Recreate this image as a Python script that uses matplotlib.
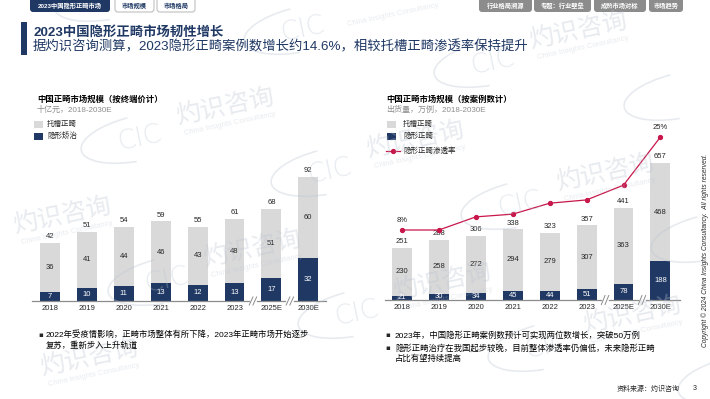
import matplotlib
matplotlib.use('Agg')
import matplotlib.pyplot as plt
from matplotlib.patches import FancyBboxPatch, Rectangle, Arc
import numpy as np

plt.rcParams['font.family'] = ['Liberation Sans', 'Noto Sans CJK SC', 'DejaVu Sans']

# 数据
years = ['2018', '2019', '2020', '2021', '2022', '2023', '2025E', '2030E']
# 左图：十亿元
value_invisible = [7, 10, 11, 13, 12, 13, 17, 32]
value_bracket = [36, 41, 44, 46, 43, 48, 51, 60]
value_total = [42, 51, 54, 59, 55, 61, 68, 92]
# 右图：万例
case_invisible = [21, 30, 34, 45, 44, 51, 78, 188]
case_bracket = [230, 258, 272, 294, 279, 307, 363, 468]
case_total = [251, 288, 306, 338, 323, 357, 441, 657]
penetration = [8, 8, 10.4, 10.9, 12.9, 13.5, 16.2, 25]
penetration_labels = ['8%', '', '', '', '', '', '', '25%']

NAVY = '#1f3864'
GRAY = '#d9d9d9'
RED = '#c8174b'
DARK = '#262626'
W, H = 710, 399

fig = plt.figure(figsize=(W / 100, H / 100), dpi=100)


def rect(x0, y_top, x1, y_bot):
    return [x0 / W, 1 - y_bot / H, (x1 - x0) / W, (y_bot - y_top) / H]


def bar_chart(ax, inv, brk, tot, xlim, ylim):
    x = np.arange(len(years))
    ax.bar(x, inv, width=0.54, color=NAVY, zorder=2)
    ax.bar(x, brk, bottom=inv, width=0.54, color=GRAY, zorder=2)
    for i in range(len(x)):
        ax.text(x[i], inv[i] / 2, str(inv[i]), ha='center', va='center',
                color='white', fontsize=5.5, zorder=3)
        ax.text(x[i], inv[i] + brk[i] / 2, str(brk[i]), ha='center', va='center',
                color=DARK, fontsize=5.5, zorder=3)
        ax.annotate(str(tot[i]), (x[i], inv[i] + brk[i]), xytext=(0, 2),
                    textcoords='offset points', ha='center', va='bottom',
                    color=DARK, fontsize=5.5)
    ax.set_xlim(*xlim)
    ax.set_ylim(*ylim)
    for s in ax.spines.values():
        s.set_visible(False)
    ax.set_yticks([])
    ax.set_xticks(x, years)
    ax.tick_params(axis='x', length=0, labelsize=5.5, pad=3, labelcolor=DARK)
    ax.patch.set_alpha(0)
    tr = ax.get_xaxis_transform()
    segs = [(xlim[0], 5.38), (5.62, 6.38), (6.62, xlim[1])]
    for a, b in segs:
        ax.plot([a, b], [0, 0], color='#8c8c8c', lw=0.9, transform=tr,
                clip_on=False, zorder=4)
    for bx in (5.5, 6.5):
        for dx in (-0.05, 0.05):
            ax.plot([bx + dx - 0.05, bx + dx + 0.05], [-0.025, 0.025],
                    color='#8c8c8c', lw=0.7, transform=tr, clip_on=False)


# 左图
ax1 = fig.add_axes(rect(32, 140, 326, 301))
bar_chart(ax1, value_invisible, value_bracket, value_total,
          (-0.49, 7.48), (0, 161 / 1.35))

# 右图
ax2 = fig.add_axes(rect(385, 120, 680, 300))
bar_chart(ax2, case_invisible, case_bracket, case_total,
          (-0.46, 7.53), (0, 180 / 0.2085))
ax3 = ax2.twinx()
ax3.set_position(rect(385, 120, 680, 300))
ax3.plot(np.arange(len(years)), penetration, color=RED, lw=0.9,
         marker='o', ms=2.8, zorder=5)
for i, lab in enumerate(penetration_labels):
    if lab:
        ax3.annotate(lab, (i, penetration[i]), xytext=(0, 4),
                     textcoords='offset points', ha='center', va='bottom',
                     color=DARK, fontsize=5.5)
ymin = 8 - 70 / 5.47
ax3.set_ylim(ymin, ymin + 180 / 5.47)
ax3.set_xlim(-0.46, 7.53)
ax3.axis('off')

# 覆盖层：文字、标签页、水印
ov = fig.add_axes([0, 0, 1, 1], zorder=10)
ov.set_xlim(0, W)
ov.set_ylim(H, 0)
ov.axis('off')
ov.patch.set_alpha(0)


def inside(cx, cy, hw, hh):
    return cx - hw > 1 and cx + hw < W - 1 and cy - hh > 1 and cy + hh < H - 1


# 水印（只画完整落在画面内的部分）
WM = '#b8c2cf'
u = np.array([190, 33])
v = np.array([27, 142])
o = np.array([225, 107])
for i in range(-3, 5):
    for j in range(-2, 4):
        cx, cy = o + i * u + j * v
        if inside(cx, cy, 55, 22):
            ov.text(cx, cy, '灼识咨询', fontsize=18, rotation=12, color=WM,
                    alpha=0.33, ha='center', va='center', rotation_mode='anchor')
        if inside(cx + 5, cy + 17, 52, 12):
            ov.text(cx + 5, cy + 17, 'China Insights Consultancy', fontsize=5.5,
                    rotation=12, color=WM, alpha=0.33, ha='center', va='center',
                    rotation_mode='anchor')
        if inside(cx - 85, cy + 31, 32, 18):
            ov.text(cx - 85, cy + 31, 'CIC', fontsize=19, rotation=12, color=WM,
                    alpha=0.33, ha='center', va='center', rotation_mode='anchor',
                    family='DejaVu Sans', weight='light')
        if -80 < cx - 85 < W + 80 and -40 < cy + 31 < H + 40:
            ov.add_patch(Arc((cx - 85, cy + 31), 120, 45, angle=-12,
                             theta1=110, theta2=250, color=WM, alpha=0.33, lw=1.2))

# 顶部标签页
ov.add_patch(FancyBboxPatch((30, -4), 80, 16, boxstyle='round,pad=0,rounding_size=3',
                            fc=NAVY, ec='none'))
ov.text(70, 6, '2023中国隐形正畸市场', color='white', fontsize=4.5,
        weight='bold', ha='center', va='center')
for x0, x1, lab in [(115, 154, '市场规模'), (157, 195, '市场格局')]:
    ov.add_patch(FancyBboxPatch((x0, -4), x1 - x0, 16,
                                boxstyle='round,pad=0,rounding_size=3',
                                fc='white', ec='#bfbfbf', lw=0.8))
    ov.text((x0 + x1) / 2, 6, lab, color=NAVY, fontsize=4.5, weight='bold',
            ha='center', va='center')
for x0, x1, lab in [(479, 532, '行业格局溯源'), (534, 591, '专题：行业壁垒'),
                    (594, 646, '成熟市场对标'), (649, 683, '市场趋势')]:
    ov.add_patch(FancyBboxPatch((x0, -4), x1 - x0, 16,
                                boxstyle='round,pad=0,rounding_size=3',
                                fc='#8c8c8c', ec='none'))
    ov.text((x0 + x1) / 2, 6, lab, color='white', fontsize=4.5, weight='bold',
            ha='center', va='center')

# 标题
ov.add_patch(Rectangle((21, 22), 6, 33, fc=NAVY, ec='none'))
ov.text(33, 32, '2023中国隐形正畸市场韧性增长', color=NAVY, fontsize=9.6,
        weight='bold', va='center')
ov.text(33, 47, '据灼识咨询测算，2023隐形正畸案例数增长约14.6%，相较托槽正畸渗透率保持提升',
        color=NAVY, fontsize=9.6, va='center')

# 图表标题
ov.text(37, 100, '中国正畸市场规模（按终端价计）', fontsize=6, weight='bold',
        color='black', va='center')
ov.text(37, 110, '十亿元，2018-2030E', fontsize=5.8, color='#8c8c8c', va='center')
ov.text(386, 100, '中国正畸市场规模（按案例数计）', fontsize=6, weight='bold',
        color='black', va='center')
ov.text(386, 110, '出货量，万例，2018-2030E', fontsize=5.8, color='#8c8c8c', va='center')

# 图例
ov.add_patch(Rectangle((34, 121), 9, 7, fc=GRAY, ec='none'))
ov.text(47, 124.5, '托槽正畸', fontsize=5.4, color=DARK, va='center')
ov.add_patch(Rectangle((34, 133), 9, 7, fc=NAVY, ec='none'))
ov.text(47, 136.5, '隐形矫治', fontsize=5.4, color=DARK, va='center')

ov.add_patch(Rectangle((387, 121), 9, 7, fc=GRAY, ec='none'))
ov.text(403, 124.5, '托槽正畸', fontsize=5.4, color=DARK, va='center')
ov.add_patch(Rectangle((387, 133), 9, 7, fc=NAVY, ec='none'))
ov.text(403, 136.5, '隐形正畸', fontsize=5.4, color=DARK, va='center')
ov.plot([386, 400], [151, 151], color=RED, lw=0.9)
ov.plot([393], [151], 'o', color=RED, ms=2.8)
ov.text(403, 151, '隐形正畸渗透率', fontsize=5.4, color=DARK, va='center')

# 要点
ov.text(38, 335, '▪', fontsize=5, color=DARK, va='center', family=['DejaVu Sans'])
ov.text(46, 335, '2022年受疫情影响，正畸市场整体有所下降，2023年正畸市场开始逐步',
        fontsize=6, color='black', va='center')
ov.text(46, 346, '复苏，重新步入上升轨道', fontsize=6, color='black', va='center')
ov.text(385, 335, '▪', fontsize=5, color=DARK, va='center', family=['DejaVu Sans'])
ov.text(395, 335, '2023年，中国隐形正畸案例数预计可实现两位数增长，突破50万例',
        fontsize=6, color='black', va='center')
ov.text(385, 348, '▪', fontsize=5, color=DARK, va='center', family=['DejaVu Sans'])
ov.text(395, 348, '隐形正畸治疗在我国起步较晚，目前整体渗透率仍偏低，未来隐形正畸',
        fontsize=6, color='black', va='center')
ov.text(395, 359, '占比有望持续提高', fontsize=6, color='black', va='center')

# 页脚
ov.text(617, 389, '资料来源：灼识咨询', fontsize=5, color=DARK, va='center',
        style='italic')
ov.text(693, 389, '3', fontsize=5, color=DARK, va='center')
ov.text(705, 250, 'Copyright © 2024 China Insights Consultancy.  All rights reserved.',
        fontsize=4.8, color=DARK, rotation=90, ha='center', va='center',
        style='italic')

fig.savefig('out.png', dpi=100)
